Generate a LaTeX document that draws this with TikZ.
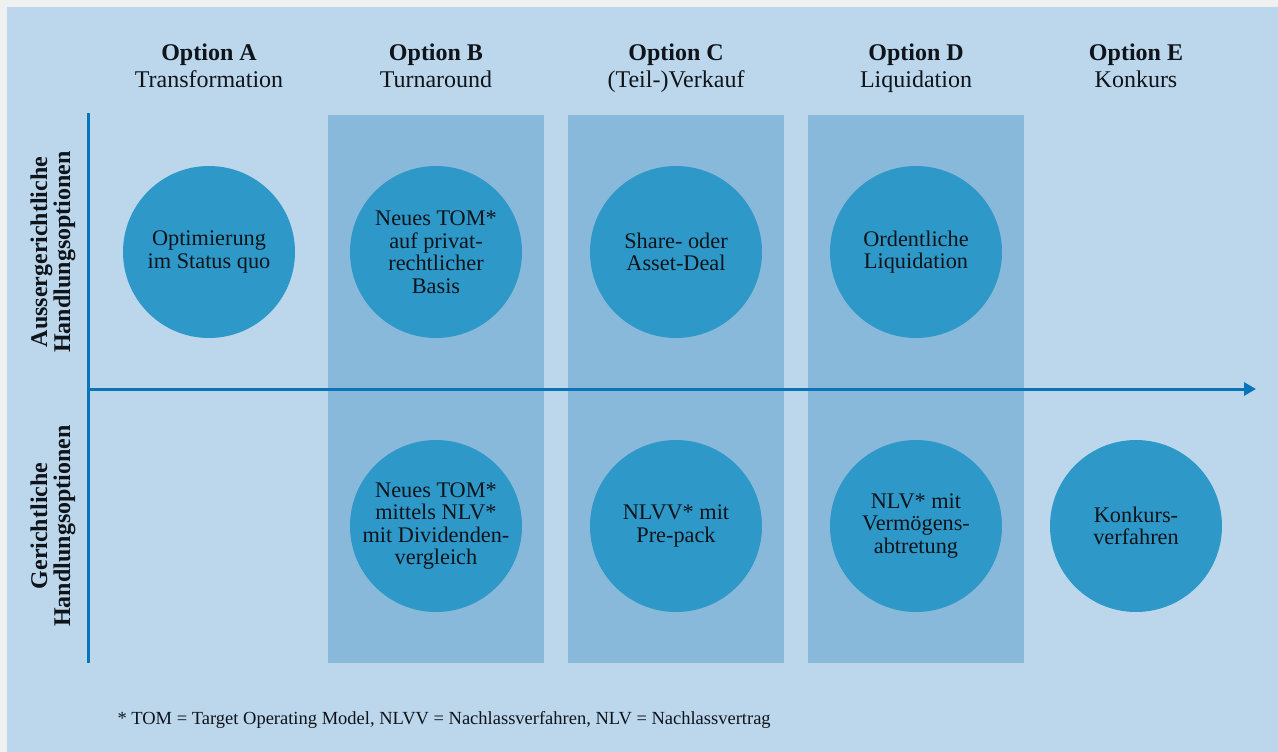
\documentclass[tikz,border=0pt]{standalone}
\usepackage{fontspec}
\setmainfont{Liberation Serif}
\usetikzlibrary{arrows.meta}

\definecolor{frame}{HTML}{EEF1F0}
\definecolor{paper}{HTML}{BCD7EB}
\definecolor{lane}{HTML}{89B9DA}
\definecolor{optblue}{HTML}{2E98C9}
\definecolor{axisblue}{HTML}{0A74B8}
\definecolor{ink}{HTML}{0E141A}

\tikzset{
  option/.style={circle,fill=optblue,minimum size=172pt,inner sep=0pt,align=center,
    text=ink,font=\fontsize{22.3}{22.5}\selectfont},
  colhead/.style={anchor=north,inner sep=0pt,align=center,text=ink,font=\fontsize{24}{27}\selectfont},
  rowlabel/.style={rotate=90,align=center,text=ink,font=\bfseries\fontsize{24}{23}\selectfont},
  axisline/.style={draw=axisblue,line width=3pt}
}

\begin{document}
\begin{tikzpicture}[x=1pt,y=-1pt]
  \fill[frame] (0,0) rectangle (1278,752);
  \fill[paper] (7,7) rectangle (1278,752);
  \useasboundingbox (0,0) rectangle (1278,752);

  % shaded columns B, C, D
  \foreach \x in {328,568,808}
    \fill[lane] (\x,115) rectangle +(216,548);

  % column heads
  \node[colhead] (headA) at (209,44) {\textbf{Option A}\\Transformation};
  \node[colhead] (headB) at (436,44) {\textbf{Option B}\\Turnaround};
  \node[colhead] (headC) at (676,44) {\textbf{Option C}\\(Teil-)Verkauf};
  \node[colhead] (headD) at (916,44) {\textbf{Option D}\\Liquidation};
  \node[colhead] (headE) at (1136,44) {\textbf{Option E}\\Konkurs};

  % axes
  \coordinate (ytop) at (88,113);
  \coordinate (ybot) at (88,663);
  \coordinate (origin) at (88,389);
  \coordinate (xend) at (1256,389);
  \draw[axisline] (ytop) -- (ybot);
  \draw[axisline,-{Triangle[length=12pt,width=13pt]}] (origin) -- (xend);

  \node[rowlabel] (rowtop) at (53,252) {Aussergerichtliche\\Handlungsoptionen};
  \node[rowlabel] (rowbot) at (53,526) {Gerichtliche\\Handlungsoptionen};

  % upper row
  \node[option] (optA) at (209,252) {Optimierung\\im Status quo};
  \node[option] (optB) at (436,252) {Neues TOM*\\auf privat-\\rechtlicher\\Basis};
  \node[option] (optC) at (676,252) {Share- oder\\Asset-Deal};
  \node[option] (optD) at (916,252) {Ordentliche\\Liquidation};

  % lower row
  \node[option] (lowB) at (436,526) {Neues TOM*\\mittels NLV*\\mit Dividenden-\\vergleich};
  \node[option] (lowC) at (676,526) {NLVV* mit\\Pre-pack};
  \node[option] (lowD) at (916,526) {NLV* mit\\Vermögens-\\abtretung};
  \node[option] (lowE) at (1136,526) {Konkurs-\\verfahren};

  \node[anchor=base west,text=ink,font=\fontsize{18.5}{20}\selectfont] (note) at (114,724)
    {* TOM = Target Operating Model, NLVV = Nachlassverfahren, NLV = Nachlassvertrag};
\end{tikzpicture}
\end{document}
